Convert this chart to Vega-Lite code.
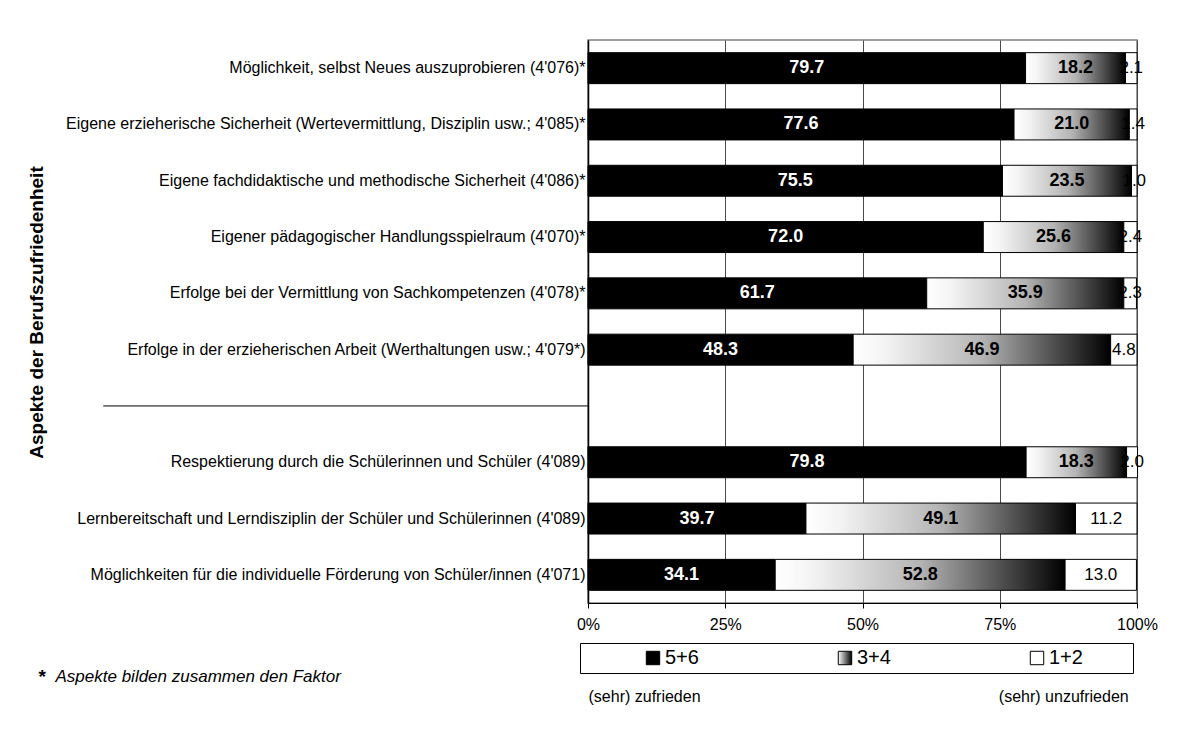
{
  "$schema": "https://vega.github.io/schema/vega-lite/v6.json",
  "width": 549,
  "height": 563,
  "autosize": "none",
  "padding": {"left": 588, "top": 40, "right": 44, "bottom": 130},
  "background": "white",
  "config": {
    "font": "Liberation Sans",
    "view": {"stroke": "#808080", "strokeWidth": 1.5},
    "axis": {"labelColor": "black", "titleColor": "black", "labelFont": "Liberation Sans", "titleFont": "Liberation Sans"}
  },
  "data": {
    "values": [
      {"aspekt": "Möglichkeit, selbst Neues auszuprobieren (4'076)*", "kat": "5+6", "ord": 1, "wert": 79.7},
      {"aspekt": "Möglichkeit, selbst Neues auszuprobieren (4'076)*", "kat": "3+4", "ord": 2, "wert": 18.2},
      {"aspekt": "Möglichkeit, selbst Neues auszuprobieren (4'076)*", "kat": "1+2", "ord": 3, "wert": 2.1},
      {"aspekt": "Eigene erzieherische Sicherheit (Wertevermittlung, Disziplin usw.; 4'085)*", "kat": "5+6", "ord": 1, "wert": 77.6},
      {"aspekt": "Eigene erzieherische Sicherheit (Wertevermittlung, Disziplin usw.; 4'085)*", "kat": "3+4", "ord": 2, "wert": 21.0},
      {"aspekt": "Eigene erzieherische Sicherheit (Wertevermittlung, Disziplin usw.; 4'085)*", "kat": "1+2", "ord": 3, "wert": 1.4},
      {"aspekt": "Eigene fachdidaktische und methodische Sicherheit (4'086)*", "kat": "5+6", "ord": 1, "wert": 75.5},
      {"aspekt": "Eigene fachdidaktische und methodische Sicherheit (4'086)*", "kat": "3+4", "ord": 2, "wert": 23.5},
      {"aspekt": "Eigene fachdidaktische und methodische Sicherheit (4'086)*", "kat": "1+2", "ord": 3, "wert": 1.0},
      {"aspekt": "Eigener pädagogischer Handlungsspielraum (4'070)*", "kat": "5+6", "ord": 1, "wert": 72.0},
      {"aspekt": "Eigener pädagogischer Handlungsspielraum (4'070)*", "kat": "3+4", "ord": 2, "wert": 25.6},
      {"aspekt": "Eigener pädagogischer Handlungsspielraum (4'070)*", "kat": "1+2", "ord": 3, "wert": 2.4},
      {"aspekt": "Erfolge bei der Vermittlung von Sachkompetenzen (4'078)*", "kat": "5+6", "ord": 1, "wert": 61.7},
      {"aspekt": "Erfolge bei der Vermittlung von Sachkompetenzen (4'078)*", "kat": "3+4", "ord": 2, "wert": 35.9},
      {"aspekt": "Erfolge bei der Vermittlung von Sachkompetenzen (4'078)*", "kat": "1+2", "ord": 3, "wert": 2.3},
      {"aspekt": "Erfolge in der erzieherischen Arbeit (Werthaltungen usw.; 4'079*)", "kat": "5+6", "ord": 1, "wert": 48.3},
      {"aspekt": "Erfolge in der erzieherischen Arbeit (Werthaltungen usw.; 4'079*)", "kat": "3+4", "ord": 2, "wert": 46.9},
      {"aspekt": "Erfolge in der erzieherischen Arbeit (Werthaltungen usw.; 4'079*)", "kat": "1+2", "ord": 3, "wert": 4.8},
      {"aspekt": "Respektierung durch die Schülerinnen und Schüler (4'089)", "kat": "5+6", "ord": 1, "wert": 79.8},
      {"aspekt": "Respektierung durch die Schülerinnen und Schüler (4'089)", "kat": "3+4", "ord": 2, "wert": 18.3},
      {"aspekt": "Respektierung durch die Schülerinnen und Schüler (4'089)", "kat": "1+2", "ord": 3, "wert": 2.0},
      {"aspekt": "Lernbereitschaft und Lerndisziplin der Schüler und Schülerinnen (4'089)", "kat": "5+6", "ord": 1, "wert": 39.7},
      {"aspekt": "Lernbereitschaft und Lerndisziplin der Schüler und Schülerinnen (4'089)", "kat": "3+4", "ord": 2, "wert": 49.1},
      {"aspekt": "Lernbereitschaft und Lerndisziplin der Schüler und Schülerinnen (4'089)", "kat": "1+2", "ord": 3, "wert": 11.2},
      {"aspekt": "Möglichkeiten für die individuelle Förderung von Schüler/innen (4'071)", "kat": "5+6", "ord": 1, "wert": 34.1},
      {"aspekt": "Möglichkeiten für die individuelle Förderung von Schüler/innen (4'071)", "kat": "3+4", "ord": 2, "wert": 52.8},
      {"aspekt": "Möglichkeiten für die individuelle Förderung von Schüler/innen (4'071)", "kat": "1+2", "ord": 3, "wert": 13.0}
    ]
  },
  "transform": [
    {"stack": "wert", "groupby": ["aspekt"], "sort": [{"field": "ord"}], "as": ["x0", "x1"]},
    {"calculate": "(datum.x0 + datum.x1) / 2", "as": "xm"}
  ],
  "encoding": {
    "y": {
      "field": "aspekt",
      "type": "nominal",
      "title": "Aspekte der Berufszufriedenheit",
      "scale": {
        "domain": [
          "Möglichkeit, selbst Neues auszuprobieren (4'076)*",
          "Eigene erzieherische Sicherheit (Wertevermittlung, Disziplin usw.; 4'085)*",
          "Eigene fachdidaktische und methodische Sicherheit (4'086)*",
          "Eigener pädagogischer Handlungsspielraum (4'070)*",
          "Erfolge bei der Vermittlung von Sachkompetenzen (4'078)*",
          "Erfolge in der erzieherischen Arbeit (Werthaltungen usw.; 4'079*)",
          " ",
          "Respektierung durch die Schülerinnen und Schüler (4'089)",
          "Lernbereitschaft und Lerndisziplin der Schüler und Schülerinnen (4'089)",
          "Möglichkeiten für die individuelle Förderung von Schüler/innen (4'071)"
        ],
        "paddingInner": 0.45,
        "paddingOuter": 0.225
      },
      "axis": {
        "labelFontSize": 16,
        "labelLimit": 700,
        "labelPadding": 3,
        "ticks": false,
        "domain": true,
        "domainColor": "black",
        "domainWidth": 1.5,
        "titleFontSize": 19,
        "titleFontWeight": "bold",
        "titleX": -552,
        "titleY": 272,
        "titleBaseline": "middle",
        "titleAlign": "center"
      }
    }
  },
  "layer": [
    {
      "mark": {"type": "bar", "stroke": "black", "strokeWidth": 1},
      "encoding": {
        "x": {
          "field": "x0",
          "type": "quantitative",
          "scale": {"domain": [0, 100], "nice": false},
          "axis": {
            "orient": "bottom",
            "values": [0, 25, 50, 75, 100],
            "labelExpr": "datum.value + '%'",
            "labelFontSize": 16,
            "labelPadding": 8,
            "labelFlush": false,
            "grid": true,
            "gridColor": "#4a4a4a",
            "gridWidth": 1,
            "ticks": true,
            "tickSize": 5,
            "tickColor": "black",
            "domain": true,
            "domainColor": "black",
            "title": "Aspekte bilden zusammen den Faktor",
            "titleFontStyle": "italic",
            "titleFontWeight": "normal",
            "titleFontSize": 17,
            "titleX": -533,
            "titleY": 73,
            "titleAlign": "left",
            "titleAnchor": "start",
            "titleBaseline": "middle"
          }
        },
        "x2": {"field": "x1"},
        "fill": {
          "field": "kat",
          "type": "nominal",
          "scale": {
            "domain": ["5+6", "3+4", "1+2"],
            "range": [
              "#000000",
              {"expr": "{gradient: 'linear', x1: 0, y1: 0, x2: 1, y2: 0, stops: [{offset: 0, color: '#ffffff'}, {offset: 1, color: '#000000'}]}"},
              "#ffffff"
            ]
          },
          "condition": {
            "test": "datum.kat === '3+4'",
            "value": {
              "gradient": "linear", "x1": 0, "y1": 0, "x2": 1, "y2": 0,
              "stops": [
                {"offset": 0, "color": "#ffffff"},
                {"offset": 0.12, "color": "#f4f4f4"},
                {"offset": 0.5, "color": "#b4b4b4"},
                {"offset": 1, "color": "#000000"}
              ]
            }
          },
          "legend": {
            "orient": "none",
            "legendX": -8,
            "legendY": 603,
            "direction": "horizontal",
            "title": " ",
            "titleOrient": "left",
            "titlePadding": 58,
            "symbolType": "square",
            "symbolSize": 180,
            "symbolStrokeColor": "black",
            "symbolStrokeWidth": 1,
            "symbolOpacity": 1,
            "labelFont": "Liberation Sans",
            "labelFontSize": 20,
            "labelColor": "black",
            "labelOffset": 2,
            "columnPadding": 136,
            "gridAlign": "none",
            "strokeColor": "black",
            "fillColor": "white",
            "padding": 5,
            "labelExpr": "datum.value === '1+2' ? '1+2\u2800\u2800\u2800' : datum.label"
          }
        },
        "order": {"field": "ord"}
      }
    },
    {
      "transform": [{"filter": "datum.kat !== '1+2'"}],
      "mark": {"type": "text", "fontSize": 18, "fontWeight": "bold", "font": "Liberation Sans", "baseline": "middle", "align": "center"},
      "encoding": {
        "x": {"field": "xm", "type": "quantitative", "scale": {"domain": [0, 100], "nice": false}, "axis": null},
        "text": {"field": "wert", "type": "quantitative", "format": ".1f"},
        "color": {"condition": {"test": "datum.kat === '5+6'", "value": "white"}, "value": "black"}
      }
    },
    {
      "transform": [{"filter": "datum.kat === '1+2'"}],
      "mark": {"type": "text", "fontSize": 17, "font": "Liberation Sans", "baseline": "middle", "align": "center", "color": "black"},
      "encoding": {
        "x": {"field": "xm", "type": "quantitative", "scale": {"domain": [0, 100], "nice": false}, "axis": null},
        "text": {"field": "wert", "type": "quantitative", "format": ".1f"}
      }
    },
    {
      "data": {"values": [{}]},
      "mark": {"type": "rule", "color": "black", "strokeWidth": 1},
      "encoding": {
        "y": {"datum": " "},
        "x": {
          "datum": -88.3,
          "type": "quantitative",
          "scale": {"domain": [0, 100], "nice": false},
          "axis": {
            "orient": "bottom",
            "values": [0, 98.4],
            "labelExpr": "datum.value == 0 ? '(sehr) zufrieden' : '(sehr) unzufrieden'",
            "labelFlush": false,
            "labelAlign": {"condition": {"test": "datum.value == 0", "value": "left"}, "value": "right"},
            "labelFontSize": 16,
            "labelPadding": 85,
            "labelBaseline": "top",
            "ticks": false,
            "domain": false,
            "grid": false,
            "title": "*",
            "titleFontSize": 19,
            "titleFontWeight": "bold",
            "titleX": -550,
            "titleY": 79,
            "titleAlign": "left",
            "titleBaseline": "alphabetic"
          }
        },
        "x2": {"datum": 0}
      }
    }
  ],
  "resolve": {"axis": {"x": "independent"}}
}
